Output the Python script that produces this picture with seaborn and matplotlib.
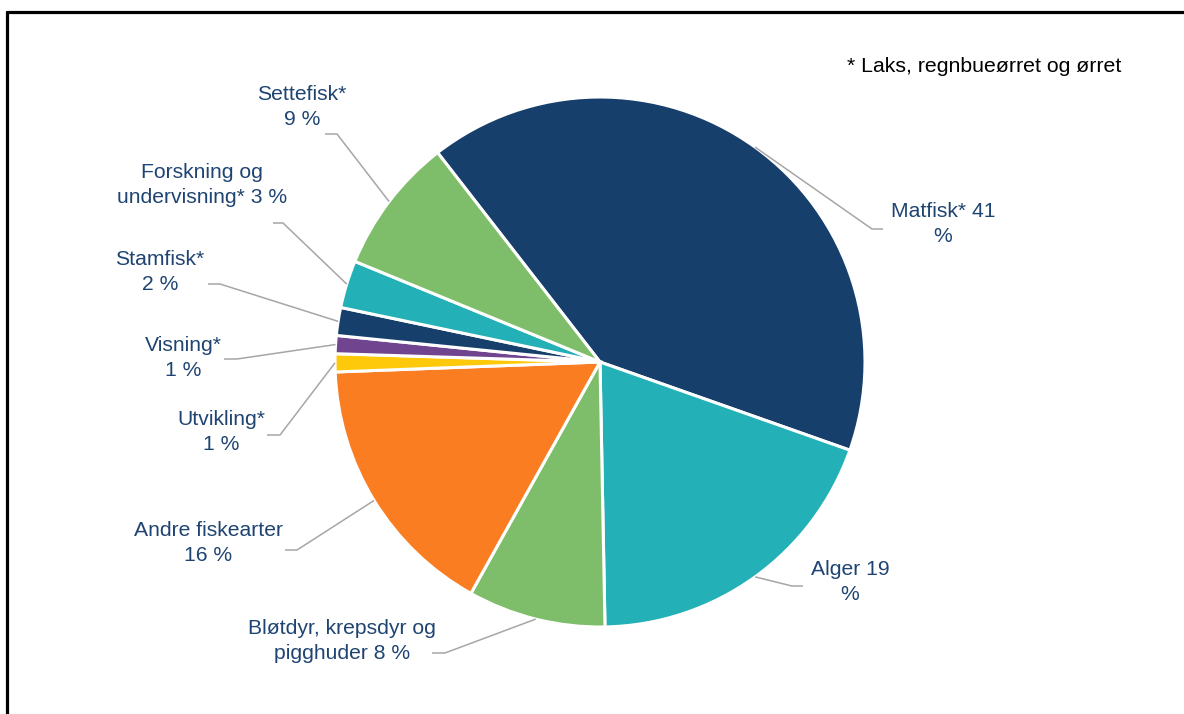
import numpy as np
import matplotlib
matplotlib.use("Agg")
import matplotlib.pyplot as plt
import seaborn as sns
from matplotlib.lines import Line2D

# ---- data ----
categories = ["Matfisk*", "Alger", "Bløtdyr, krepsdyr og pigghuder",
              "Andre fiskearter", "Utvikling*", "Visning*", "Stamfisk*",
              "Forskning og undervisning*", "Settefisk*"]
shares = [40.9, 19.3, 8.4, 16.3, 1.1, 1.1, 1.7, 2.9, 8.3]
label_texts = ["Matfisk* 41\n%", "Alger 19\n%", "Bløtdyr, krepsdyr og\npigghuder 8 %",
               "Andre fiskearter\n16 %", "Utvikling*\n1 %", "Visning*\n1 %",
               "Stamfisk*\n2 %", "Forskning og\nundervisning* 3 %", "Settefisk*\n9 %"]
footnote = "* Laks, regnbueørret og ørret"

colors = ["#173F6B", "#23B0B6", "#7EBE6B", "#FA7D22", "#FFC90B",
          "#70448E", "#173F6B", "#23B0B6", "#7EBE6B"]

# ---- layout (pixel positions, y measured from top) ----
W, H = 1184, 714
center_px = (600, 362)
radius_px = 265
# knee point, end x, text centre
knees = [(872, 229), (792, 586), (445, 653), (297, 550), (280, 435),
         (237, 359), (220, 284), (283, 223), (337, 134)]
ends_x = [883, 803, 432, 285, 267, 224, 208, 273, 325]
text_pos = [(943, 224), (850, 582), (342, 641), (208, 543), (221, 432),
            (183, 358), (160, 272), (202, 185), (302, 107)]

sns.set_theme(style="white")
plt.rcParams['font.family'] = ['Liberation Sans', 'DejaVu Sans']

fig = plt.figure(figsize=(W / 100, H / 100), dpi=100)
fig.patch.set_facecolor("white")
ax = fig.add_axes([0, 0, 1, 1])

def Y(y):
    return H - y

wedges, _ = ax.pie(shares, colors=colors, startangle=127.8, counterclock=False,
                   center=(center_px[0], Y(center_px[1])), radius=radius_px,
                   wedgeprops=dict(edgecolor="white", linewidth=2.2))

ax.set_xlim(0, W)
ax.set_ylim(0, H)
ax.set_aspect("equal")
ax.axis("off")

text_color = "#1F4472"
line_color = "#A6A6A6"
cx, cy = center_px[0], Y(center_px[1])
for w, knee, ex, tp, txt in zip(wedges, knees, ends_x, text_pos, label_texts):
    mid = np.deg2rad((w.theta1 + w.theta2) / 2)
    rx = cx + radius_px * np.cos(mid)
    ry = cy + radius_px * np.sin(mid)
    ax.plot([rx, knee[0], ex], [ry, Y(knee[1]), Y(knee[1])],
            color=line_color, lw=1.1, solid_capstyle="butt", zorder=1)
    ax.text(tp[0], Y(tp[1]), txt, ha="center", va="center", fontsize=15.2,
            color=text_color, linespacing=1.35)

ax.text(984, Y(67), footnote, ha="center", va="center", fontsize=15.3, color="black")

# frame (clipped at right and bottom)
fig.add_artist(Line2D([7 / W, 1.01], [1 - 11.5 / H, 1 - 11.5 / H],
                      transform=fig.transFigure, color="black", lw=2.3))
fig.add_artist(Line2D([7 / W, 7 / W], [1 - 11.5 / H, -0.01],
                      transform=fig.transFigure, color="black", lw=2.3))

fig.savefig("out.png", dpi=100, facecolor="white")
